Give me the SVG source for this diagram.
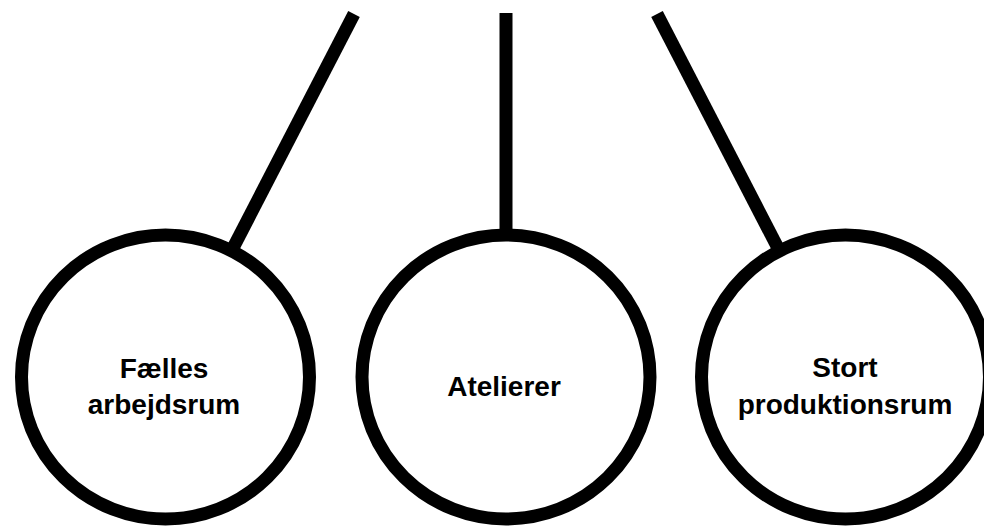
<svg xmlns="http://www.w3.org/2000/svg" width="984" height="527" viewBox="0 0 984 527">
<style>
.node ellipse{fill:#fff;stroke:#000;stroke-width:13}
.conn line{stroke:#000;stroke-width:13;stroke-linecap:butt}
text{font-family:"Liberation Sans",Arial,Helvetica,sans-serif;font-weight:bold;font-size:28px;fill:#000;text-anchor:middle}
</style>
<rect width="984" height="527" fill="#fff"/>
<g id="connectors" class="conn">
<line x1="354" y1="14" x2="232" y2="250"/>
<line x1="506" y1="13" x2="506" y2="236"/>
<line x1="657" y1="14" x2="779" y2="250"/>
</g>
<g id="node-faelles" class="node">
<ellipse cx="165.5" cy="377" rx="144" ry="142"/>
<text x="164" y="378">Fælles</text>
<text x="164" y="414">arbejdsrum</text>
</g>
<g id="node-atelierer" class="node">
<ellipse cx="506" cy="377" rx="144" ry="142"/>
<text x="504" y="396">Atelierer</text>
</g>
<g id="node-stort" class="node">
<ellipse cx="845.5" cy="377" rx="144" ry="142"/>
<text x="845" y="377">Stort</text>
<text x="845" y="414">produktionsrum</text>
</g>
</svg>
